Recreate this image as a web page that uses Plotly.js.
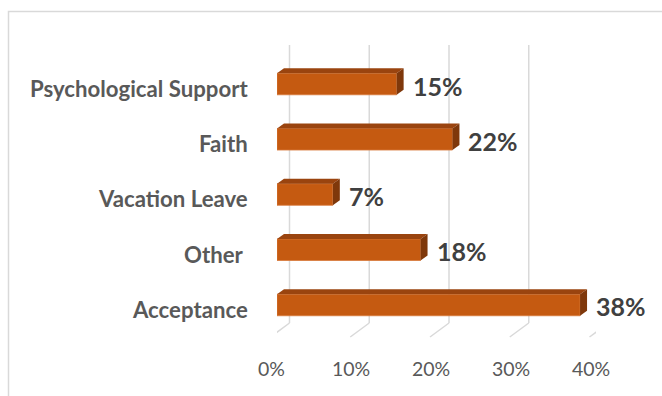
<!DOCTYPE html>
<html>
<head>
<meta charset="utf-8">
<script src="https://cdn.plot.ly/plotly-3.0.1.min.js"></script>
<style>html,body{margin:0;padding:0;background:#fff;}#chart{width:662px;height:396px;}</style>
</head>
<body>
<div id="chart"></div>
<script>
// ---- data (top to bottom as displayed) ----
const categories = ["Psychological Support", "Faith", "Vacation Leave", "Other\u00a0", "Acceptance"];
const values = [0.15, 0.22, 0.07, 0.18, 0.38];
const valueLabels = ["15%", "22%", "7%", "18%", "38%"];
const tickValues = [0, 0.1, 0.2, 0.3, 0.4];
const tickLabels = ["0%", "10%", "20%", "30%", "40%"];

// ---- layout geometry ----
const W = 662, H = 396;
const xPx0 = 277, xPx1 = 596, xMax = 0.4;
const yPxTop = 56.4, yPxBot = 332.6;
const n = categories.length;
const pxPerX = (xPx1 - xPx0) / xMax;
const pxPerY = (yPxBot - yPxTop) / n;
const barW = 0.39;
const depthX = 7 / pxPerX, depthY = 5 / pxPerY;

const frontColor = "#c55a11", topColor = "#9a440f", sideColor = "#7f380b";
const ypos = categories.map((c, i) => n - 1 - i);

const trace = {
  type: "bar", orientation: "h",
  x: values, y: ypos,
  width: barW,
  marker: {color: frontColor, line: {color: "#d8793a", width: 0.8}},
  hoverinfo: "skip"
};

const shapes = [];
// border
shapes.push({type: "rect", xref: "paper", yref: "paper",
  x0: 8.5 / W, x1: 1.02, y0: -0.02, y1: (H - 11.5) / H,
  line: {color: "#d9d9d9", width: 1.5}, layer: "below"});
// back-wall gridlines and floor lines
const floorY = (H - 323) / H, wallTop = (H - 45) / H;
tickValues.forEach(t => {
  shapes.push({type: "line", xref: "x", yref: "paper", xsizemode: "pixel", xanchor: t,
    x0: 12.5, x1: 12.5, y0: floorY, y1: wallTop,
    line: {color: "#d9d9d9", width: 1.5}, layer: "below"});
  shapes.push({type: "line", xref: "x", yref: "paper", xsizemode: "pixel", ysizemode: "pixel",
    xanchor: t, yanchor: floorY, x0: 12.5, y0: 0, x1: -6.5, y1: -14,
    line: {color: "#d9d9d9", width: 1.5}, layer: "below"});
});
// 3D faces of bars
values.forEach((v, i) => {
  const yc = ypos[i], yt = yc + barW / 2, yb = yc - barW / 2;
  shapes.push({type: "path", xref: "x", yref: "y",
    path: `M0,${yt} L${v},${yt} L${v + depthX},${yt + depthY} L${depthX},${yt + depthY} Z`,
    fillcolor: topColor, line: {width: 0}, layer: "above"});
  shapes.push({type: "path", xref: "x", yref: "y",
    path: `M${v},${yb} L${v},${yt} L${v + depthX},${yt + depthY} L${v + depthX},${yb + depthY} Z`,
    fillcolor: sideColor, line: {width: 0}, layer: "above"});
});

const annotations = [];
categories.forEach((c, i) => {
  annotations.push({xref: "paper", yref: "y", x: 250 / W, y: ypos[i], xanchor: "right", yanchor: "middle",
    yshift: -4.5, text: c, showarrow: false,
    font: {family: "Lato, 'Open Sans', sans-serif", size: 22.2, color: "#595959", weight: "bold"}});
  annotations.push({xref: "x", yref: "y", x: values[i], y: ypos[i], xanchor: "left", yanchor: "middle",
    xshift: 14, yshift: -1.5, text: valueLabels[i], showarrow: false,
    font: {family: "Lato, 'Open Sans', sans-serif", size: 25, color: "#404040", weight: "bold"}});
});
tickValues.forEach((t, i) => {
  annotations.push({xref: "x", yref: "paper", x: t, y: (H - 368) / H, xanchor: "center", yanchor: "middle",
    xshift: -5.5, text: tickLabels[i], showarrow: false,
    font: {family: "Lato, 'Open Sans', sans-serif", size: 19.5, color: "#595959"}});
});

const layout = {
  width: W, height: H,
  margin: {l: 0, r: 0, t: 0, b: 0},
  paper_bgcolor: "#ffffff", plot_bgcolor: "rgba(0,0,0,0)",
  showlegend: false,
  xaxis: {domain: [xPx0 / W, xPx1 / W], range: [0, xMax], showgrid: false, zeroline: false,
    showticklabels: false, ticks: "", fixedrange: true},
  yaxis: {domain: [(H - yPxBot) / H, (H - yPxTop) / H], range: [-0.5, n - 0.5], showgrid: false,
    zeroline: false, showticklabels: false, ticks: "", fixedrange: true},
  shapes: shapes,
  annotations: annotations
};

Plotly.newPlot("chart", [trace], layout, {staticPlot: true, displayModeBar: false});
</script>
</body>
</html>
